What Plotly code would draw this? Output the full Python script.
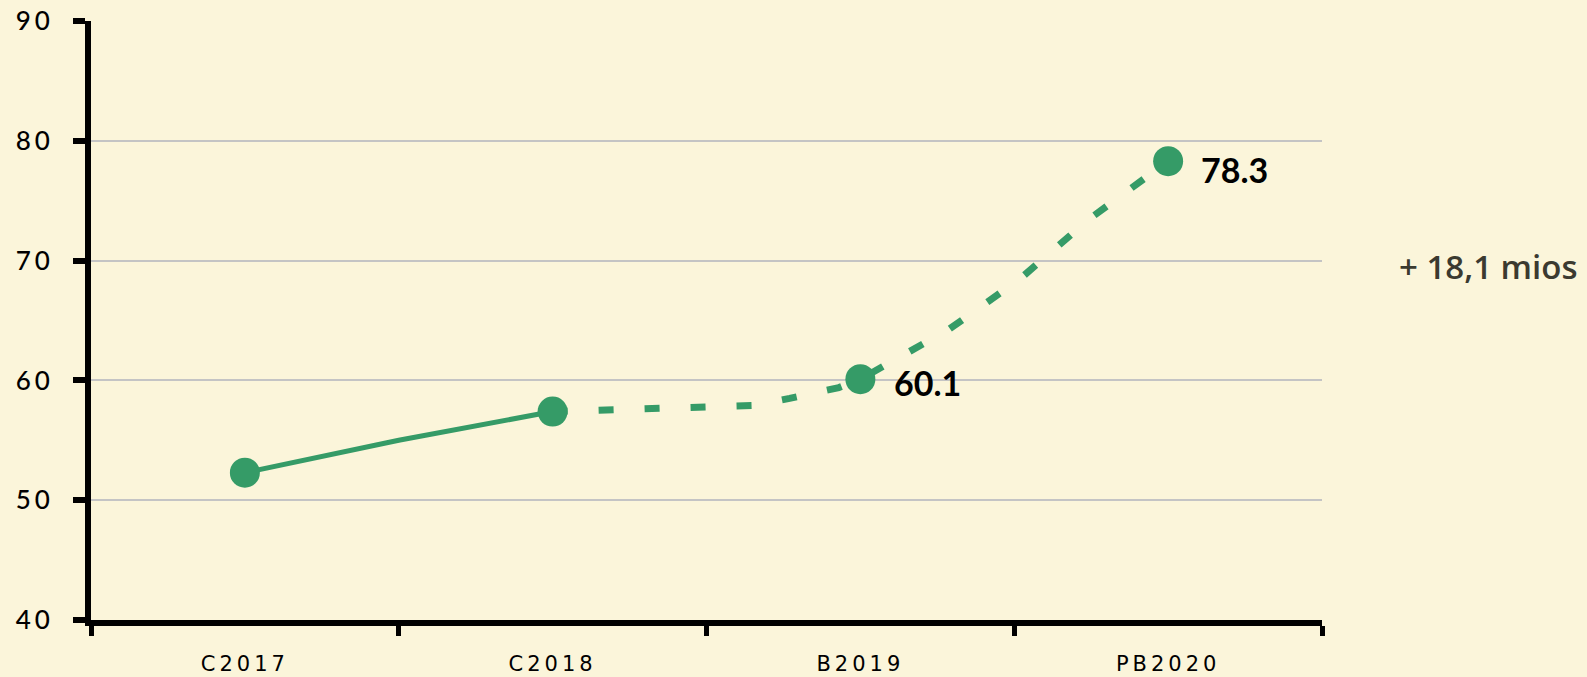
import plotly.graph_objects as go

# ---- data ----
categories = ["C2017", "C2018", "B2019", "PB2020"]
values = [52.3, 57.4, 60.1, 78.3]
value_labels = ["", "", "60.1", "78.3"]

# observed (solid) path, in category units (0..4, centres at .5)
solid_pos = [0.5, 1.0, 1.5]
solid_val = [52.3, 55.0, 57.4]

# projected (dashed) path
dash_pos = [1.5, 2.15, 2.27, 2.43, 2.5, 2.65, 2.79, 3.02, 3.24, 3.5]
dash_val = [57.4, 57.9, 58.5, 59.4, 60.1, 62.3, 64.3, 68.5, 73.4, 78.3]

y_ticks = [40, 50, 60, 70, 80, 90]
side_note = "+ 18,1 mios"

green = "#359B67"
bg = "#FBF5DA"

cat_pos = [i + 0.5 for i in range(len(categories))]

fig = go.Figure()
fig.add_trace(go.Scatter(x=solid_pos, y=solid_val, mode="lines",
                         line=dict(color=green, width=5), hoverinfo="skip"))
fig.add_trace(go.Scatter(x=dash_pos, y=dash_val, mode="lines",
                         line=dict(color=green, width=7, dash="15px,31px"),
                         hoverinfo="skip"))
fig.add_trace(go.Scatter(x=cat_pos, y=values, mode="markers",
                         marker=dict(color=green, size=30), hoverinfo="skip"))

shifts = [(0, 0), (0, 0), (32, -3), (31, -8)]
for p, v, t, (xs, ys) in zip(cat_pos, values, value_labels, shifts):
    if t:
        fig.add_annotation(x=p, y=v, text=t, showarrow=False, xanchor="left",
                           xshift=xs, yshift=ys,
                           font=dict(family="Lato", size=34, color="black", weight="bold"))

fig.add_annotation(x=1.061, y=69.5, xref="paper", yref="y", text=side_note,
                   showarrow=False, xanchor="left",
                   font=dict(family="Open Sans", size=33, color="#3b3a30", weight=600))

fig.update_layout(
    width=1587, height=677,
    margin=dict(l=91, r=265, t=21, b=57, autoexpand=False),
    paper_bgcolor=bg, plot_bgcolor=bg,
    showlegend=False,
    xaxis=dict(range=[0, 4], tickvals=cat_pos, ticktext=categories, ticks="",
               showgrid=False, zeroline=False, automargin=False,
               showline=True, linecolor="black", linewidth=6,
               tickfont=dict(family="DejaVu Sans", size=21, color="black", weight=500),
               ticklabelstandoff=20,
               minor=dict(tickvals=[0, 1, 2, 3, 4], ticks="outside", ticklen=10,
                          tickwidth=5, tickcolor="black", showgrid=False)),
    yaxis=dict(range=[40, 90], tickvals=y_ticks, ticks="outside", ticklen=12,
               tickwidth=6, tickcolor="black", automargin=False,
               showgrid=True, gridcolor="#C4C4C4", gridwidth=2, zeroline=False,
               showline=True, linecolor="black", linewidth=6,
               tickfont=dict(family="Lato", size=26, color="black", weight=500),
               ticklabelstandoff=14),
)

page_js = (
    "document.body.style.margin='0';"
    "document.body.style.background='" + bg + "';"
    "document.querySelectorAll('.xtick text').forEach(function(t){t.style.letterSpacing='4px';});"
    "document.querySelectorAll('.ytick text').forEach(function(t){t.style.letterSpacing='4px';});"
)

fig.write_html("out.html", post_script=page_js,
               config={"displayModeBar": False, "staticPlot": True})
